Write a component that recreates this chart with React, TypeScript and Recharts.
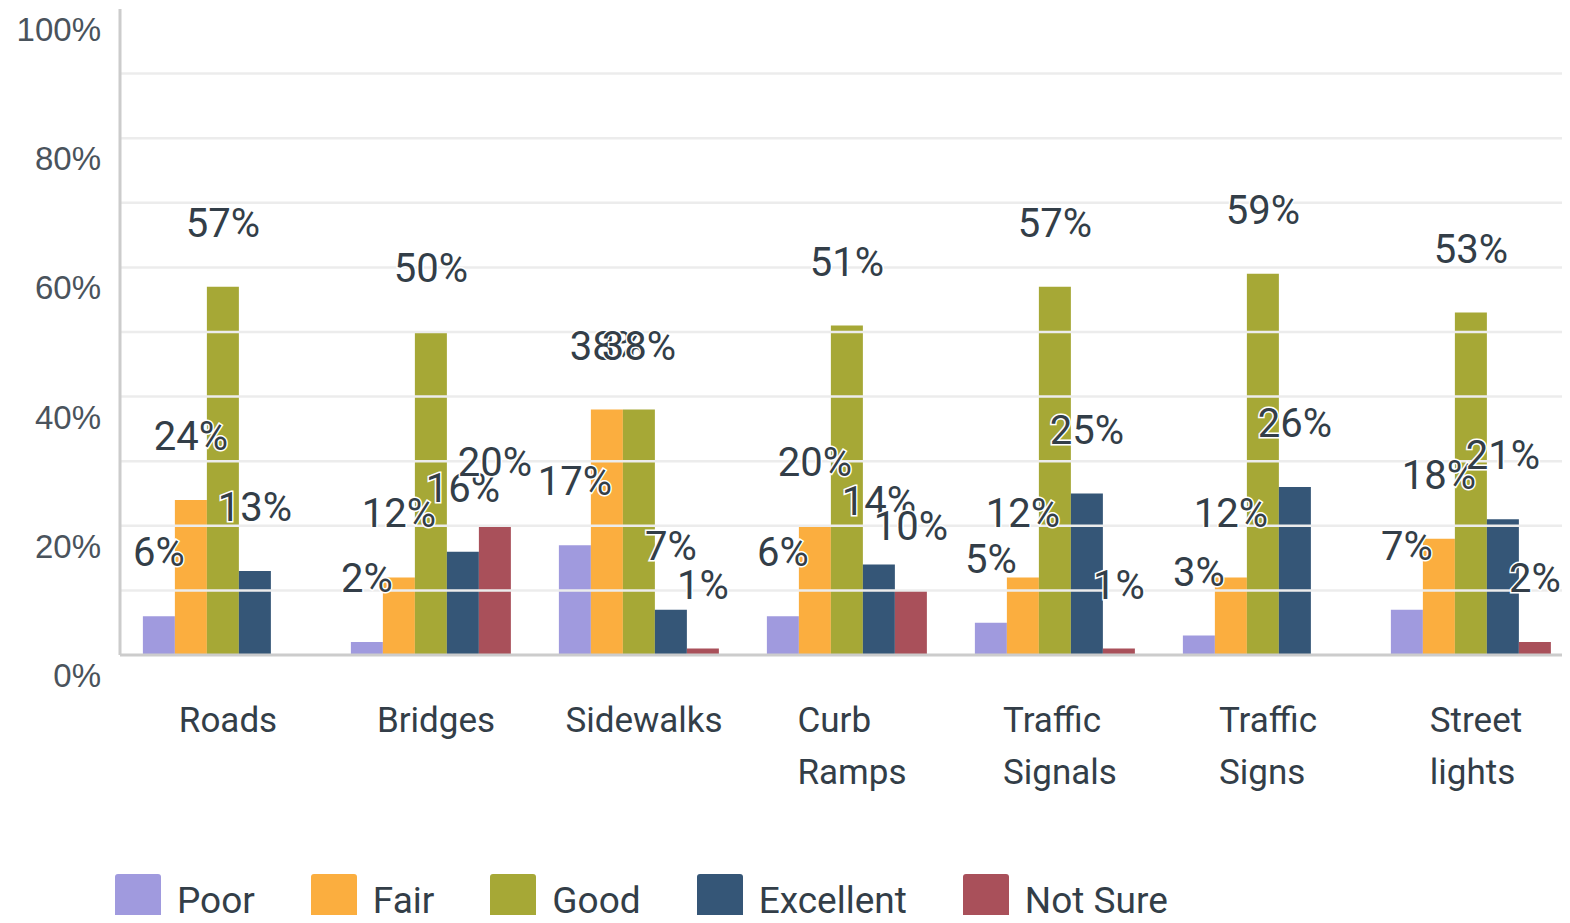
import React from "react";
import {
  BarChart,
  Bar,
  XAxis,
  YAxis,
  ReferenceLine,
  Legend,
  LabelList,
} from "recharts";

// survey answers, percent of respondents
const categories = [
  "Roads",
  "Bridges",
  "Sidewalks",
  "Curb Ramps",
  "Traffic Signals",
  "Traffic Signs",
  "Street lights",
];
const poor = [6, 2, 17, 6, 5, 3, 7];
const fair = [24, 12, 38, 20, 12, 12, 18];
const good = [57, 50, 38, 51, 57, 59, 53];
const excellent = [13, 16, 7, 14, 25, 26, 21];
const notSure = [0, 20, 1, 10, 1, 0, 2];

const seriesKeys = ["poor", "fair", "good", "excellent", "notSure"];
const seriesNames = ["Poor", "Fair", "Good", "Excellent", "Not Sure"];
const seriesColors = ["#a09ade", "#fbae3f", "#a6a836", "#355677", "#a9505a"];

const yTicks = [0, 10, 20, 30, 40, 50, 60, 70, 80, 90, 100];
const gridValues = [10, 20, 30, 40, 50, 60, 70, 80, 90];

const data = categories.map((name, i) => ({
  name,
  poor: poor[i],
  fair: fair[i],
  good: good[i],
  excellent: excellent[i],
  notSure: notSure[i],
}));

const FONT = "Roboto, 'Liberation Sans', sans-serif";
const TEXT = "#333e48";

let ctx: CanvasRenderingContext2D | null = null;
const measure = (s: string, font: string) => {
  if (!ctx) ctx = document.createElement("canvas").getContext("2d");
  if (!ctx) return s.length * 18;
  ctx.font = font;
  return ctx.measureText(s).width;
};

// multi-line labels: block centred under the band, lines left aligned
const CategoryTick = (props: any) => {
  const { x, y, payload } = props;
  const lines: string[] = String(payload.value).split(" ");
  const w = Math.max(...lines.map((l) => measure(l, `35px Roboto`)));
  return (
    <g>
      {lines.map((l, i) => (
        <text
          key={i}
          x={x - w / 2 + 4}
          y={y + 77 + i * 52}
          textAnchor="start"
          fontFamily={FONT}
          fontSize={35}
          fill={TEXT}
        >
          {l}
        </text>
      ))}
    </g>
  );
};

const PercentTick = (props: any) => {
  const { y, payload } = props;
  if (payload.value % 20 !== 0) return null;
  return (
    <text
      x={101}
      y={y + 32}
      textAnchor="end"
      fontFamily="'Liberation Sans', Arial, sans-serif"
      fontSize={33}
      fill="#4a535c"
    >
      {payload.value}%
    </text>
  );
};

const ValueLabel = (props: any) => {
  const { x, y, width, value } = props;
  return (
    <text
      x={x + width / 2}
      y={y - 50}
      textAnchor="middle"
      fontFamily={FONT}
      fontSize={40}
      fill={TEXT}
      stroke="#fff"
      strokeWidth={3}
      paintOrder="stroke"
    >
      {value}%
    </text>
  );
};

const LegendBox = () => (
  <div style={{ display: "flex", alignItems: "center" }}>
    {seriesNames.map((n, i) => (
      <div key={n} style={{ display: "flex", alignItems: "center", marginRight: 56 }}>
        <div
          style={{
            width: 46,
            height: 46,
            borderRadius: 3,
            background: seriesColors[i],
            marginRight: 16,
          }}
        />
        <span
          style={{
            fontFamily: FONT,
            fontSize: 37,
            color: TEXT,
            lineHeight: "46px",
            position: "relative",
            top: 4,
          }}
        >
          {n}
        </span>
      </div>
    ))}
  </div>
);

export default function App() {
  return (
    <div
      style={{
        margin: -8,
        width: 1570,
        height: 923,
        overflow: "hidden",
        position: "relative",
        background: "#fff",
      }}
    >
      <BarChart
        width={1576}
        height={923}
        data={data}
        margin={{ top: 9, right: 0, left: 0, bottom: 0 }}
        barCategoryGap="11%"
        barGap={0}
      >
        {gridValues.map((v) => (
          <ReferenceLine key={v} y={v} stroke="#ececec" strokeWidth={2.5} />
        ))}
        <XAxis
          dataKey="name"
          height={268}
          interval={0}
          tickLine={false}
          tickSize={0}
          tickMargin={0}
          axisLine={{ stroke: "#cccccc", strokeWidth: 3 }}
          tick={<CategoryTick />}
        />
        <YAxis
          width={120}
          domain={[0, 100]}
          ticks={yTicks}
          interval={0}
          tickLine={false}
          axisLine={{ stroke: "#cccccc", strokeWidth: 3 }}
          tick={<PercentTick />}
        />
        <Legend
          layout="horizontal"
          verticalAlign="middle"
          align="center"
          content={<LegendBox />}
          wrapperStyle={{ top: 874, left: 115, width: 1450, height: 50 }}
        />
        {seriesKeys.map((k, i) => (
          <Bar
            key={k}
            dataKey={k}
            name={seriesNames[i]}
            fill={seriesColors[i]}
            isAnimationActive={false}
          >
            <LabelList dataKey={k} content={<ValueLabel />} />
          </Bar>
        ))}
      </BarChart>
    </div>
  );
}
